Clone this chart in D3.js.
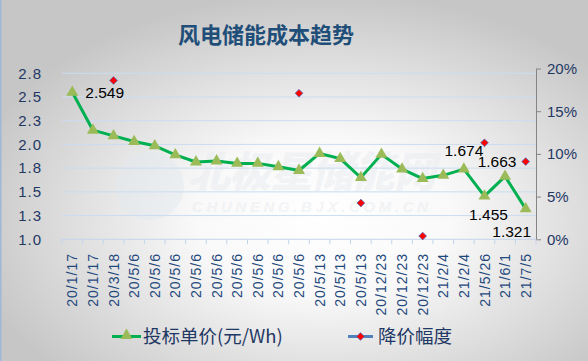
<!DOCTYPE html>
<html><head><meta charset="utf-8">
<script src="https://cdn.jsdelivr.net/npm/d3@7"></script>
<style>
html,body{margin:0;padding:0;overflow:hidden;background:#fff}
svg{display:block}
</style></head>
<body>
<script>
// ---------- data ----------
const title = "风电储能成本趋势";
const categories = ["20/1/17","20/1/17","20/3/18","20/5/6","20/5/6","20/5/6","20/5/6","20/5/6","20/5/6","20/5/6","20/5/6","20/5/6","20/5/13","20/5/13","20/5/13","20/12/23","20/12/23","20/12/23","21/2/4","21/2/4","21/5/26","21/6/1","21/7/5"];
const unitPrice = [2.549,2.15,2.09,2.03,1.985,1.89,1.815,1.825,1.80,1.80,1.765,1.725,1.905,1.85,1.65,1.895,1.74,1.64,1.674,1.74,1.455,1.663,1.321];
const dropPct = [null,null,0.186,null,null,null,null,null,null,null,null,0.171,null,null,0.0425,null,null,0.0038,null,null,0.113,null,0.091];
const seriesNames = ["投标单价(元/Wh)","降价幅度"];
const leftTicks = [1.0,1.25,1.5,1.75,2.0,2.25,2.5,2.75];
const leftTickLabels = ["1.0","1.3","1.5","1.8","2.0","2.3","2.5","2.8"];
const rightTicks = [0,0.05,0.10,0.15,0.20];
const rightTickLabels = ["0%","5%","10%","15%","20%"];
const labelIndex = [0,19,20,21,22];
const labelText = ["2.549","1.674","1.455","1.663","1.321"];

// ---------- layout ----------
const W = 588, H = 361;
const plot = {l:62, r:536, t:68.5, b:239.3};
const numFont = "'Liberation Sans', Arial, sans-serif";
const cjkFont = "'Noto Sans CJK SC', 'Noto Sans', sans-serif";

const svg = d3.select("body").append("svg").attr("width",W).attr("height",H);
const defs = svg.append("defs");
const rg = defs.append("radialGradient").attr("id","bg")
  .attr("cx","0.55").attr("cy","0.6").attr("r","0.62").attr("fx","0.55").attr("fy","0.6");
rg.append("stop").attr("offset","0%").attr("stop-color","#ffffff");
rg.append("stop").attr("offset","35%").attr("stop-color","#f9f9f9");
rg.append("stop").attr("offset","100%").attr("stop-color","#c6c6c6");
svg.append("rect").attr("width",W).attr("height",H).attr("fill","url(#bg)");
svg.append("line").attr("x1",0.75).attr("x2",0.75).attr("y1",0).attr("y2",H)
  .attr("stroke","#9fb8d8").attr("stroke-width",1.5);

// watermark
const wm = svg.append("g").attr("opacity",0.45);
wm.append("circle").attr("cx",150).attr("cy",186).attr("r",34).attr("fill","#e3e9f0");
wm.append("text").attr("x",188).attr("y",187).attr("font-family",cjkFont)
  .attr("font-weight","900").attr("font-size",42).attr("font-style","italic")
  .attr("fill","#e6e9ee").attr("textLength",248).text("北极星储能网");
wm.append("text").attr("x",192).attr("y",212).attr("font-family",numFont)
  .attr("font-weight","bold").attr("font-size",15).attr("font-style","italic")
  .attr("fill","#e6e9ee").attr("textLength",236).text("CHUNENG.BJX.COM.CN");

// title
svg.append("text").attr("x",266).attr("y",43).attr("text-anchor","middle")
  .attr("font-family",cjkFont).attr("font-weight","bold").attr("font-size",22)
  .attr("fill","#1f4e79").text(title);

// scales
const x = d3.scaleBand().domain(d3.range(categories.length)).range([plot.l,plot.r]).padding(0);
const cx = i => x(i) + x.bandwidth()/2;
const yL = d3.scaleLinear().domain([1.0,2.8]).range([plot.b,plot.t]);
const yR = d3.scaleLinear().domain([0,0.20]).range([plot.b,plot.t]);

// gridlines
svg.append("g").selectAll("line").data(leftTicks.slice(1)).join("line")
  .attr("x1",plot.l).attr("x2",plot.r).attr("y1",d=>yL(d)).attr("y2",d=>yL(d))
  .attr("stroke","#cbdcf0").attr("stroke-width",1);

// left axis labels
const gL = svg.append("g").attr("transform",`translate(${plot.l},0)`)
  .call(d3.axisLeft(yL).tickValues(leftTicks).tickFormat((d,i)=>leftTickLabels[i]).tickSize(0).tickPadding(20));
gL.select(".domain").remove();
gL.selectAll("text").attr("font-family",numFont).attr("font-size",15).attr("fill","#1f3864")
  .attr("letter-spacing","1px");

// right axis
const gR = svg.append("g").attr("transform",`translate(${plot.r},0)`)
  .call(d3.axisRight(yR).tickValues(rightTicks).tickFormat((d,i)=>rightTickLabels[i]).tickSize(5).tickSizeOuter(0).tickPadding(6));
gR.select(".domain").attr("stroke","#858585");
gR.selectAll(".tick line").attr("stroke","#858585");
gR.selectAll("text").attr("font-family",numFont).attr("font-size",15).attr("fill","#1f3864");

// x axis
const gX = svg.append("g");
gX.append("line").attr("x1",plot.l).attr("x2",plot.r).attr("y1",plot.b).attr("y2",plot.b)
  .attr("stroke","#c3d5ec").attr("stroke-width",1);
gX.selectAll("line.tk").data(d3.range(categories.length+1)).join("line").attr("class","tk")
  .attr("x1",i=>i<categories.length?x(i):plot.r).attr("x2",i=>i<categories.length?x(i):plot.r)
  .attr("y1",plot.b).attr("y2",plot.b+5).attr("stroke","#c3d5ec");
gX.selectAll("text").data(categories).join("text")
  .attr("transform",(d,i)=>`translate(${cx(i)},253) rotate(-90)`)
  .attr("text-anchor","end").attr("dy","0.36em")
  .attr("font-family",numFont).attr("font-size",14).attr("letter-spacing","1px")
  .attr("fill","#1f497d").text(d=>d);

// price line
const line = d3.line().x((d,i)=>cx(i)).y(d=>yL(d));
svg.append("path").datum(unitPrice).attr("d",line).attr("fill","none")
  .attr("stroke","#00b050").attr("stroke-width",3).attr("stroke-linejoin","round");
const tri = d3.symbol().type(d3.symbolTriangle).size(62);
svg.append("g").selectAll("path").data(unitPrice).join("path")
  .attr("d",tri).attr("transform",(d,i)=>`translate(${cx(i)},${yL(d)})`)
  .attr("fill","#9bbb59");

// drop markers
const sq = d3.symbol().type(d3.symbolSquare).size(30);
svg.append("g").selectAll("path").data(dropPct.map((v,i)=>({v,i})).filter(d=>d.v!=null)).join("path")
  .attr("d",sq).attr("transform",d=>`translate(${cx(d.i)},${yR(d.v)}) rotate(45)`)
  .attr("fill","#ff0000").attr("stroke","#5a6fb8").attr("stroke-width",0.8);

// data labels
const offs = {0:[13,0,"start"],19:[0,-19,"middle"],20:[4,18,"middle"],21:[-8,-15,"middle"],22:[-14,23,"middle"]};
svg.append("g").selectAll("text").data(labelIndex).join("text")
  .attr("x",(d)=>cx(d)+offs[d][0]).attr("y",d=>yL(unitPrice[d])+offs[d][1])
  .attr("dy","0.35em").attr("text-anchor",d=>offs[d][2])
  .attr("font-family",numFont).attr("font-size",15.5).attr("fill","#000")
  .text((d,i)=>labelText[i]);

// legend
const lg = svg.append("g");
const ly = 336.5;
lg.append("line").attr("x1",112).attr("x2",141).attr("y1",ly).attr("y2",ly).attr("stroke","#00b050").attr("stroke-width",3);
lg.append("path").attr("d",tri).attr("transform",`translate(126.5,${ly-1})`).attr("fill","#9bbb59");
lg.append("text").attr("x",143).attr("y",ly).attr("dy","0.36em").attr("font-family",cjkFont)
  .attr("font-size",18.5).attr("fill","#1f3864").text(seriesNames[0]);
lg.append("line").attr("x1",348).attr("x2",373).attr("y1",ly).attr("y2",ly).attr("stroke","#4f81bd").attr("stroke-width",3);
lg.append("path").attr("d",sq).attr("transform",`translate(360.5,${ly}) rotate(45)`).attr("fill","#ff0000").attr("stroke","#5a6fb8").attr("stroke-width",0.8);
lg.append("text").attr("x",378).attr("y",ly).attr("dy","0.36em").attr("font-family",cjkFont)
  .attr("font-size",18.5).attr("fill","#1f3864").text(seriesNames[1]);
</script>
</body></html>
